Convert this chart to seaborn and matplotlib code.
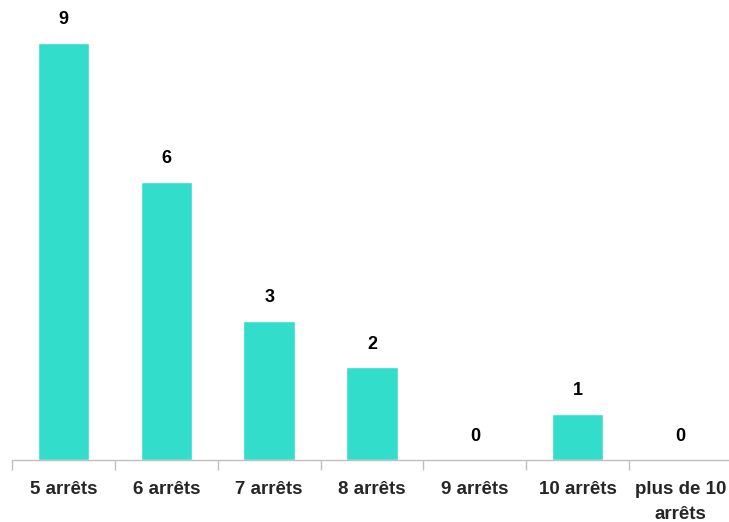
import matplotlib
matplotlib.use("Agg")
import matplotlib.pyplot as plt
import seaborn as sns
import pandas as pd

# Data
categories = ["5 arrêts", "6 arrêts", "7 arrêts", "8 arrêts", "9 arrêts", "10 arrêts", "plus de 10\narrêts"]
counts = [9, 6, 3, 2, 0, 1, 0]

df = pd.DataFrame({"cat": categories, "n": counts})

sns.set_style("white")
plt.rcParams['font.family'] = ['Liberation Sans', 'DejaVu Sans']

fig = plt.figure(figsize=(7.29, 5.22), dpi=100)
ax = fig.add_axes([12 / 729, 62 / 522, 720 / 729, 460 / 522])

sns.barplot(data=df, x="cat", y="n", color="#33DDCC", saturation=1, width=0.5, ax=ax)

ax.set_ylim(0, 9.93)
ax.set_xlim(-0.5, 6.5)
ax.set_xlabel("")
ax.set_ylabel("")
ax.set_yticks([])

# value labels above bars
for i, v in enumerate(counts):
    ax.text(i, v + 0.5, str(v), ha="center", va="center", fontsize=13, fontweight="bold", color="black")

# category ticks between bars, labels centered
ax.set_xticks([i - 0.5 for i in range(len(categories) + 1)])
ax.set_xticklabels([])
ax.set_xticks(range(len(categories)), minor=True)
ax.set_xticklabels(categories, minor=True, fontsize=13.5, fontweight="bold", linespacing=1.6)
ax.tick_params(axis="x", which="major", length=7, width=1, color="#BFBFBF", direction="out", bottom=True)
ax.tick_params(axis="x", which="minor", length=0, pad=15)

for s in ["top", "right", "left"]:
    ax.spines[s].set_visible(False)
ax.spines["bottom"].set_color("#BFBFBF")
ax.spines["bottom"].set_linewidth(1)

fig.savefig("out.png", dpi=100)
